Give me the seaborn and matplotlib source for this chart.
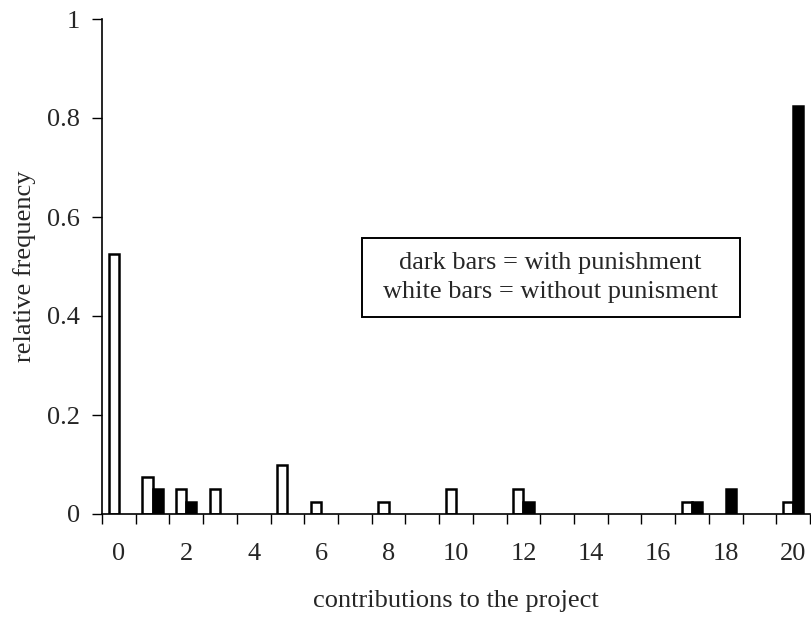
import matplotlib
matplotlib.use("Agg")
import matplotlib.pyplot as plt
import seaborn as sns
import pandas as pd
import numpy as np
from matplotlib.ticker import FixedLocator
from matplotlib.patches import Rectangle

contributions = list(range(21))
without_punishment = [0.525, 0.075, 0.05, 0.05, 0, 0.1, 0.025, 0, 0.025, 0, 0.05, 0, 0.05, 0, 0, 0, 0, 0.025, 0, 0, 0.025]
with_punishment = [0, 0.05, 0.025, 0, 0, 0, 0, 0, 0, 0, 0, 0, 0.025, 0, 0, 0, 0, 0.025, 0.05, 0, 0.825]
x_tick_labels = [str(v) for v in range(0, 21, 2)]
y_ticks = [0, 0.2, 0.4, 0.6, 0.8, 1]
y_tick_labels = ["0", "0.2", "0.4", "0.6", "0.8", "1"]

sns.set_style("white")
plt.rcParams['font.family'] = ['Liberation Serif', 'DejaVu Serif']

rows = []
for c, v in zip(contributions, without_punishment):
    if v > 0:
        rows.append({"contribution": c, "value": v, "group": "without"})
for c, v in zip(contributions, with_punishment):
    if v > 0:
        rows.append({"contribution": c, "value": v, "group": "with"})
df = pd.DataFrame(rows)

fig = plt.figure(figsize=(8.11, 6.22), dpi=100)
ax = fig.add_axes([102/811, 1 - 514/622, (810-102)/811, (514-19)/622])

sns.barplot(data=df, x="contribution", y="value", hue="group",
            order=contributions, hue_order=["without", "with"],
            palette={"without": "white", "with": "black"},
            width=0.6, edgecolor="black", linewidth=1.8, ax=ax, legend=False)

ax.set_xlim(-0.5, 20.5)
ax.set_ylim(0, 1)
ax.set_yticks(y_ticks)
ax.set_yticklabels(y_tick_labels)
ax.set_xticks(list(range(0, 21, 2)))
ax.set_xticklabels(x_tick_labels)
ax.xaxis.set_minor_locator(FixedLocator(np.arange(-0.5, 21, 1.0)))
ax.tick_params(axis='x', which='major', length=0, pad=21, labelsize=19)
ax.tick_params(axis='x', which='minor', length=7, width=1, color='black', direction='out', bottom=True)
ax.tick_params(axis='y', which='major', length=7, width=1, color='black', direction='out', left=True, pad=9, labelsize=19)

for s in ["top", "right"]:
    ax.spines[s].set_visible(False)
for s in ["left", "bottom"]:
    ax.spines[s].set_color("black")
    ax.spines[s].set_linewidth(1.2)

ax.set_xlabel("contributions to the project", fontsize=19, labelpad=18)
ax.set_ylabel("relative frequency", fontsize=19, labelpad=8)

ax.add_patch(Rectangle((0.367, 0.398), 0.534, 0.160, transform=ax.transAxes,
                       facecolor="white", edgecolor="black", linewidth=1.4, zorder=5))
ax.text(0.633, 0.478, "dark bars = with punishment\nwhite bars = without punisment",
        transform=ax.transAxes, ha="center", va="center", fontsize=19, linespacing=1.45, zorder=6)

fig.savefig("out.png", dpi=100)
